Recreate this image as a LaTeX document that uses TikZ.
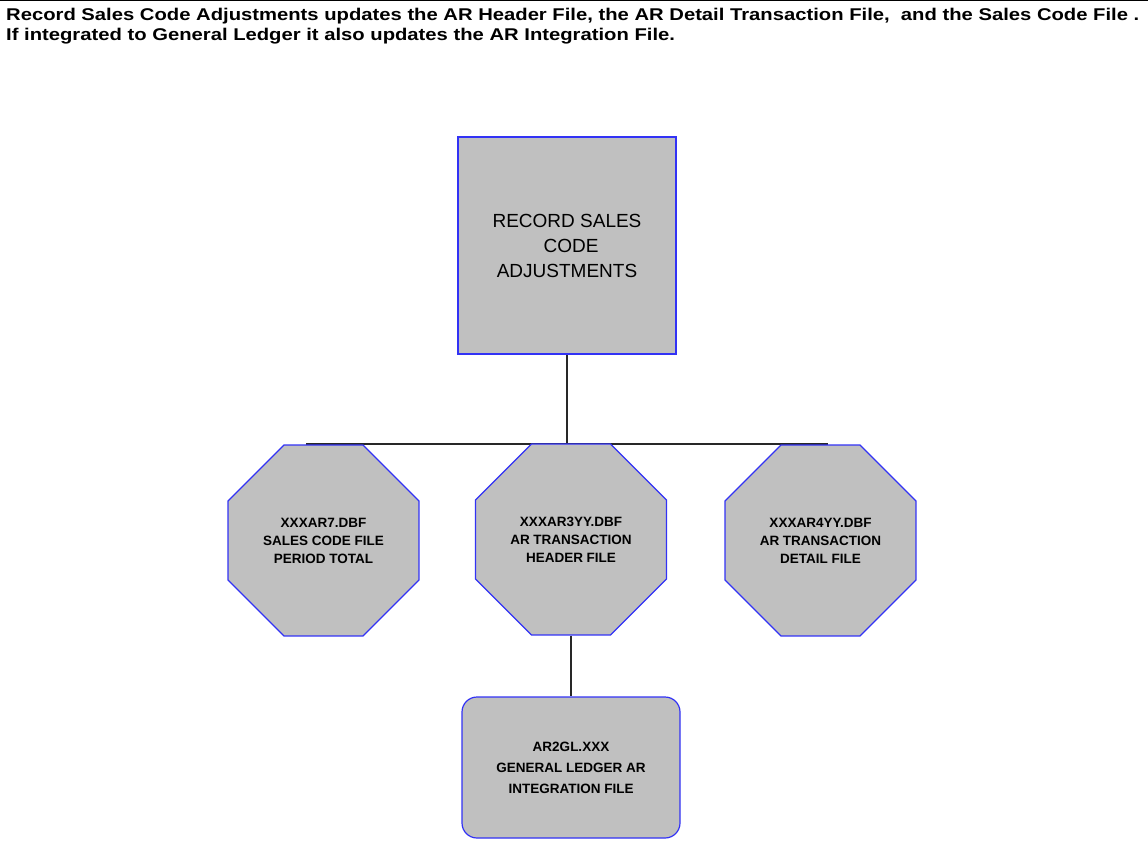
\documentclass[tikz,border=0pt]{standalone}
\usepackage{fontspec}
\setmainfont{Liberation Sans}
\newfontfamily\titlefont[FakeStretch=1.19]{Liberation Sans}
\usetikzlibrary{shapes.geometric,backgrounds}
\definecolor{boxgray}{RGB}{192,192,192}
\definecolor{edgeblue}{RGB}{50,50,245}
\definecolor{linegray}{RGB}{40,40,40}
\begin{document}
\begin{tikzpicture}[x=1pt,y=-1pt,
  titletext/.style={anchor=base west, inner sep=0pt, font=\titlefont\bfseries\fontsize{17}{20}\selectfont},
  procbox/.style={draw=edgeblue, fill=boxgray, line width=1.2pt, minimum width=218pt, minimum height=217pt, align=center, inner sep=0pt, font=\fontsize{19}{25}\selectfont},
  filebox/.style={regular polygon, regular polygon sides=8, minimum size=206.7pt, draw=edgeblue, fill=boxgray, line width=1.2pt, inner sep=0pt, align=center, font=\bfseries\fontsize{13.5}{18}\selectfont},
  glbox/.style={rectangle, rounded corners=15pt, draw=edgeblue, fill=boxgray, line width=1.2pt, minimum width=218pt, minimum height=141pt, inner sep=0pt, align=center, font=\bfseries\fontsize{13.5}{21}\selectfont},
  conn/.style={draw=linegray, line width=1.3pt}]
\useasboundingbox (0,0) rectangle (1148,843);
\draw[black, line width=1.5pt] (0,0.75) -- (1148,0.75);
\node[titletext] (t1) at (6,21) {Record Sales Code Adjustments updates the AR Header File, the AR Detail Transaction File, \ and the Sales Code File .};
\node[titletext] (t2) at (6,41) {If integrated to General Ledger it also updates the AR Integration File.};

\node[procbox] (rsc) at (567,245.5) {RECORD SALES\\\hspace*{8pt}CODE\\ADJUSTMENTS};
\node[filebox] (ar7) at (323.5,540.5) {XXXAR7.DBF\\SALES CODE FILE\\PERIOD TOTAL};
\node[filebox] (ar3) at (571,539.5) {XXXAR3YY.DBF\\AR TRANSACTION\\HEADER FILE};
\node[filebox] (ar4) at (820.5,540.5) {XXXAR4YY.DBF\\AR TRANSACTION\\DETAIL FILE};
\node[glbox] (gl) at (571,767.5) {AR2GL.XXX\\GENERAL LEDGER AR\\INTEGRATION FILE};

\coordinate (bus) at (567,444);
\coordinate (busL) at (306,444);
\coordinate (busR) at (828,444);
\begin{scope}[on background layer]
\draw[conn] (rsc.south) -- (bus);
\draw[conn] (busL) -- (busR);
\draw[conn] (ar3.south) -- (ar3.south |- gl.north);
\end{scope}
\end{tikzpicture}
\end{document}
